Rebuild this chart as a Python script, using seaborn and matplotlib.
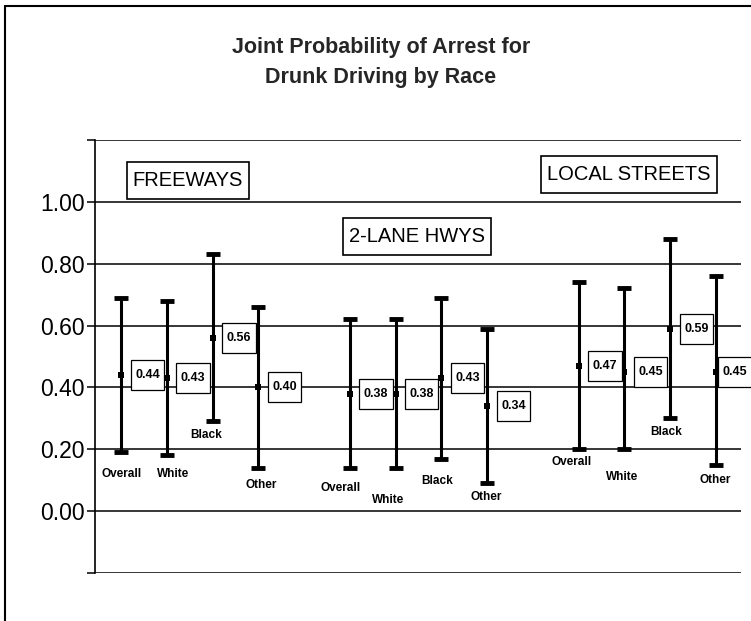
import matplotlib
matplotlib.use("Agg")
import matplotlib.pyplot as plt
from matplotlib.lines import Line2D
from matplotlib.path import Path
import pandas as pd
import seaborn as sns

# ---- data -------------------------------------------------------------
road_types = ["FREEWAYS", "2-LANE HWYS", "LOCAL STREETS"]
races = ["Overall", "White", "Black", "Other"]

mean_prob = [0.44, 0.43, 0.56, 0.40,
             0.38, 0.38, 0.43, 0.34,
             0.47, 0.45, 0.59, 0.45]
lower_prob = [0.19, 0.18, 0.29, 0.14,
              0.14, 0.14, 0.17, 0.09,
              0.20, 0.20, 0.30, 0.15]
upper_prob = [0.69, 0.68, 0.83, 0.66,
              0.62, 0.62, 0.69, 0.59,
              0.74, 0.72, 0.88, 0.76]

y_ticks = [-0.2, 0.0, 0.2, 0.4, 0.6, 0.8, 1.0, 1.2]
y_tick_labels = ["", "0.00", "0.20", "0.40", "0.60", "0.80", "1.00", ""]

# ---- layout helpers (label placement) ---------------------------------
race_label_y = [0.120, 0.120, 0.246, 0.084,
                0.074, 0.036, 0.097, 0.045,
                0.159, 0.110, 0.256, 0.100]
race_label_dx = [0, 6, -6, 3,
                 -9, -7, -4, -1,
                 -7, -2, -4, -1]
value_box_dx = [14, 14, 14, 14,
                14, 14, 14, 14,
                14, 14, 14, 7]
group_box_xy = [(1.46, 1.07), (6.47, 0.888), (11.1, 1.089)]


def rect_box(padx, pady):
    """Square-cornered text box with separate horizontal/vertical padding."""
    def box(x0, y0, width, height, mutation_size):
        px, py = padx * mutation_size, pady * mutation_size
        l, b = x0 - px, y0 - py
        r, t = x0 + width + px, y0 + height + py
        return Path([(l, b), (r, b), (r, t), (l, t), (l, b)], closed=True)
    return box


# ---- table -------------------------------------------------------------
rows = []
for g, road in enumerate(road_types):
    for i, race in enumerate(races):
        k = g * len(races) + i
        rows.append(dict(road=road, race=race,
                         pos=g * (len(races) + 1) + i,
                         mean=mean_prob[k], lo=lower_prob[k], hi=upper_prob[k]))
df = pd.DataFrame(rows)

# ---- styling -----------------------------------------------------------
sns.set_theme(style="white")
plt.rcParams["font.family"] = ["Liberation Sans", "DejaVu Sans"]
narrow = ["Liberation Sans Narrow", "Liberation Sans", "DejaVu Sans"]

fig = plt.figure(figsize=(7.51, 6.21), dpi=100)
ax = fig.add_axes([95 / 751, 1 - 573 / 621, (741 - 95) / 751, (573 - 140) / 621])
ax.set_facecolor("white")

# horizontal rules at every tick
for y in y_ticks:
    ax.axhline(y, color="black", lw=1.1, zorder=1)

# interval bars with caps
ax.errorbar(df["pos"], df["mean"],
            yerr=[df["mean"] - df["lo"], df["hi"] - df["mean"]],
            fmt="none", ecolor="black", elinewidth=2.2,
            capsize=5, capthick=3.5, zorder=3)

# mean markers
sns.scatterplot(data=df, x="pos", y="mean", ax=ax, marker="s", s=14,
                color="black", edgecolor="black", linewidth=0, zorder=4,
                legend=False)

# value boxes
for k, r in df.iterrows():
    ax.annotate(f"{r['mean']:.2f}", xy=(r["pos"], r["mean"]),
                xytext=(value_box_dx[k], 0), textcoords="offset pixels",
                ha="left", va="center", fontsize=9, fontweight="bold",
                color="black", zorder=5, annotation_clip=False,
                bbox=dict(boxstyle=rect_box(0.36, 0.72), fc="white",
                          ec="black", lw=0.9))

# race labels under each bar
for k, r in df.iterrows():
    ax.annotate(r["race"], xy=(r["pos"], race_label_y[k]),
                xytext=(race_label_dx[k], 0), textcoords="offset pixels",
                ha="center", va="center", fontsize=8.5, fontweight="bold",
                family=narrow, color="black", zorder=5)

# road-type boxes
for road, (bx, by) in zip(road_types, group_box_xy):
    ax.text(bx, by, road, ha="center", va="center", fontsize=14.5,
            family=narrow, color="black", zorder=5,
            bbox=dict(boxstyle=rect_box(0.3, 0.45), fc="white",
                      ec="black", lw=1.2))

# axes
ax.set_xlim(-0.57, 13.55)
ax.set_ylim(-0.2, 1.2)
ax.set_xticks([])
ax.set_yticks(y_ticks)
ax.set_yticklabels(y_tick_labels, fontsize=16.5)
ax.tick_params(axis="y", direction="out", length=6, width=1.1, pad=1.5,
               colors="black", left=True)
ax.set_xlabel("")
ax.set_ylabel("")
for side in ["right", "top", "bottom"]:
    ax.spines[side].set_visible(False)
ax.spines["left"].set_color("black")
ax.spines["left"].set_linewidth(1.2)

# title
fig.text(381 / 751, 1 - 47 / 621, "Joint Probability of Arrest for",
         ha="center", va="center", fontsize=15.5, fontweight="bold", family=narrow)
fig.text(381 / 751, 1 - 77 / 621, "Drunk Driving by Race",
         ha="center", va="center", fontsize=15.5, fontweight="bold", family=narrow)

# outer frame (top and left edges)
fig.add_artist(Line2D([5 / 751, 1], [1 - 6 / 621, 1 - 6 / 621],
                      color="black", lw=1.5, transform=fig.transFigure))
fig.add_artist(Line2D([5 / 751, 5 / 751], [0, 1 - 6 / 621],
                      color="black", lw=1.5, transform=fig.transFigure))

fig.savefig("out.png", dpi=100, facecolor="white")
